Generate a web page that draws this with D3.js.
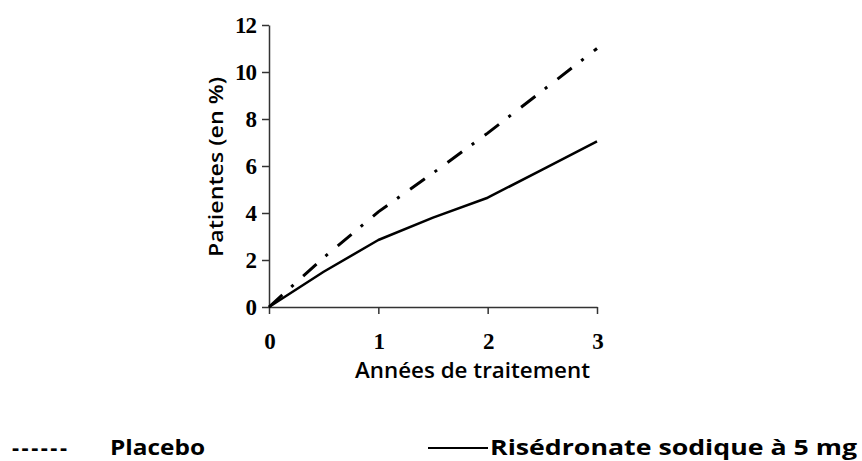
<!DOCTYPE html>
<html>
<head>
<meta charset="utf-8">
<script src="https://cdn.jsdelivr.net/npm/d3@7"></script>
<style>
  html, body { margin: 0; padding: 0; background: #fff; }
  svg { display: block; }
</style>
</head>
<body>
<svg id="chart" width="862" height="461"></svg>
<script>
// Data
const years = [0, 0.5, 1, 1.5, 2, 2.5, 3];
const placebo = [0, 2.1, 4.05, 5.7, 7.4, 9.2, 11.0];
const risedronate = [0, 1.5, 2.85, 3.8, 4.65, 5.85, 7.05];
const xTicks = [0, 1, 2, 3];
const yTicks = [0, 2, 4, 6, 8, 10, 12];
const xTitle = "Années de traitement";
const yTitle = "Patientes (en %)";
const legendPlacebo = "Placebo";
const legendRis = "Risédronate sodique à 5 mg";

const svg = d3.select("#chart");
svg.append("rect").attr("width", 862).attr("height", 461).attr("fill", "#fff");

const x = d3.scaleLinear().domain([0, 3]).range([269, 597]);
const y = d3.scaleLinear().domain([0, 12]).range([307, 25]);

// Axes
const xAxis = d3.axisBottom(x).tickValues(xTicks).tickSize(7).tickSizeOuter(0).tickPadding(19).tickFormat(d3.format("d"));
const yAxis = d3.axisLeft(y).tickValues(yTicks).tickSize(7).tickSizeOuter(0).tickPadding(6).tickFormat(d3.format("d"));

const gx = svg.append("g").attr("transform", "translate(0,307)").call(xAxis);
const gy = svg.append("g").attr("transform", "translate(269,0)").call(yAxis);

[gx, gy].forEach(g => {
  g.select(".domain").attr("stroke", "#333").attr("stroke-width", 1.5);
  g.selectAll(".tick line").attr("stroke", "#333").attr("stroke-width", 1.5);
  g.selectAll(".tick text")
    .attr("fill", "#000")
    .style("font-family", "'Liberation Serif', 'Times New Roman', serif")
    .style("font-weight", "bold")
    .style("font-size", "23px")
    .attr("letter-spacing", "-1");
});
gx.selectAll(".tick text").attr("dy", "0.71em");

// Lines
const line = d3.line().x((d, i) => x(years[i])).y(d => y(d));

svg.append("path")
  .datum(risedronate)
  .attr("d", line)
  .attr("fill", "none")
  .attr("stroke", "#000")
  .attr("stroke-width", 2.5)
  .attr("stroke-linejoin", "round");

svg.append("path")
  .datum(placebo)
  .attr("d", line)
  .attr("fill", "none")
  .attr("stroke", "#000")
  .attr("stroke-width", 3)
  .attr("stroke-dasharray", "18,12,3,13");

// Titles
const sansFont = "'Open Sans', 'Noto Sans', sans-serif";
svg.append("text")
  .attr("x", 472.5).attr("y", 378)
  .attr("text-anchor", "middle")
  .attr("textLength", 235).attr("lengthAdjust", "spacingAndGlyphs")
  .style("font-family", sansFont).style("font-size", "21px").style("font-weight", "600")
  .attr("fill", "#000")
  .text(xTitle);

svg.append("text")
  .attr("transform", "translate(223,167) rotate(-90)")
  .attr("text-anchor", "middle")
  .attr("textLength", 180).attr("lengthAdjust", "spacingAndGlyphs")
  .style("font-family", sansFont).style("font-size", "20px").style("font-weight", "600")
  .attr("fill", "#000")
  .text(yTitle);

// Legend
svg.append("text")
  .attr("x", 12).attr("y", 455)
  .attr("textLength", 55).attr("lengthAdjust", "spacing")
  .style("font-family", sansFont).style("font-size", "22px").style("font-weight", "bold")
  .attr("fill", "#000")
  .text("------");

svg.append("text")
  .attr("x", 110).attr("y", 455)
  .attr("textLength", 95).attr("lengthAdjust", "spacingAndGlyphs")
  .style("font-family", sansFont).style("font-size", "22px").style("font-weight", "bold")
  .attr("fill", "#000")
  .text(legendPlacebo);

svg.append("line")
  .attr("x1", 428).attr("x2", 488).attr("y1", 448).attr("y2", 448)
  .attr("stroke", "#000").attr("stroke-width", 2);

svg.append("text")
  .attr("x", 490).attr("y", 455)
  .attr("textLength", 367).attr("lengthAdjust", "spacingAndGlyphs")
  .style("font-family", sansFont).style("font-size", "22px").style("font-weight", "bold")
  .attr("fill", "#000")
  .text(legendRis);
</script>
</body>
</html>
